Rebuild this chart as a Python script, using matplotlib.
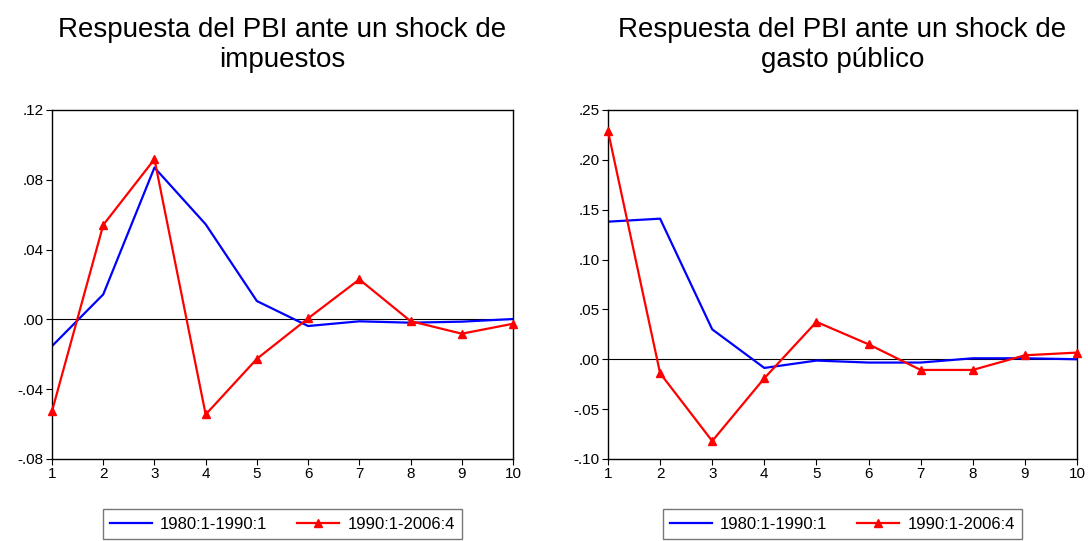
import numpy as np
import matplotlib.pyplot as plt

# === DATOS ===
periodos = list(range(1, 11))

imp_80_90 = [-0.0153, 0.0143, 0.0870, 0.0545, 0.0105, -0.0038, -0.0011, -0.0019, -0.0013, 0.0002]
imp_90_06 = [-0.0526, 0.0541, 0.0918, -0.0545, -0.0226, 0.0006, 0.0229, -0.0010, -0.0082, -0.0025]

gas_80_90 = [0.138, 0.141, 0.030, -0.0087, -0.0013, -0.0033, -0.0033, 0.0010, 0.0010, 0.0000]
gas_90_06 = [0.229, -0.014, -0.082, -0.019, 0.0375, 0.015, -0.0107, -0.0107, 0.0040, 0.0067]

titulos = ["Respuesta del PBI ante un shock de\nimpuestos",
           "Respuesta del PBI ante un shock de\ngasto público"]
etiquetas = ["1980:1-1990:1", "1990:1-2006:4"]

yticks_izq = [-0.08, -0.04, 0.00, 0.04, 0.08, 0.12]
ylabels_izq = ["-.08", "-.04", ".00", ".04", ".08", ".12"]
yticks_der = [-0.10, -0.05, 0.00, 0.05, 0.10, 0.15, 0.20, 0.25]
ylabels_der = ["-.10", "-.05", ".00", ".05", ".10", ".15", ".20", ".25"]

plt.rcParams['font.family'] = ['Liberation Sans', 'DejaVu Sans']

fig = plt.figure(figsize=(10.88, 5.41), dpi=100)
ax1 = fig.add_axes([0.0478, 0.1516, 0.4237, 0.6451])
ax2 = fig.add_axes([0.5588, 0.1516, 0.4311, 0.6451])

paneles = [
    (ax1, imp_80_90, imp_90_06, yticks_izq, ylabels_izq, (-0.08, 0.12)),
    (ax2, gas_80_90, gas_90_06, yticks_der, ylabels_der, (-0.10, 0.25)),
]

for i, (ax, azul, rojo, yt, yl, lim) in enumerate(paneles):
    ax.axhline(0, color='black', lw=0.8, zorder=1)
    ax.plot(periodos, azul, color='#0000ff', lw=1.6, label=etiquetas[0], zorder=2)
    ax.plot(periodos, rojo, color='#ff0000', lw=1.6, marker='^', ms=6,
            label=etiquetas[1], zorder=3, clip_on=False)
    ax.set_xlim(1, 10)
    ax.set_ylim(*lim)
    ax.set_xticks(periodos)
    ax.set_yticks(yt)
    ax.set_yticklabels(yl)
    ax.tick_params(axis='both', direction='out', length=4, width=0.8,
                   labelsize=11, pad=2)
    for s in ax.spines.values():
        s.set_linewidth(1.0)
    ax.set_title(titulos[i], fontsize=20, pad=31, linespacing=1.2)
    ax.legend(loc='upper center', bbox_to_anchor=(0.5, -0.13), ncol=2,
              fontsize=12, frameon=True, fancybox=False, edgecolor='#555555',
              handlelength=2.5, handletextpad=0.5, columnspacing=1.8,
              borderpad=0.45, borderaxespad=0.3)

fig.savefig("out.png", dpi=100)
